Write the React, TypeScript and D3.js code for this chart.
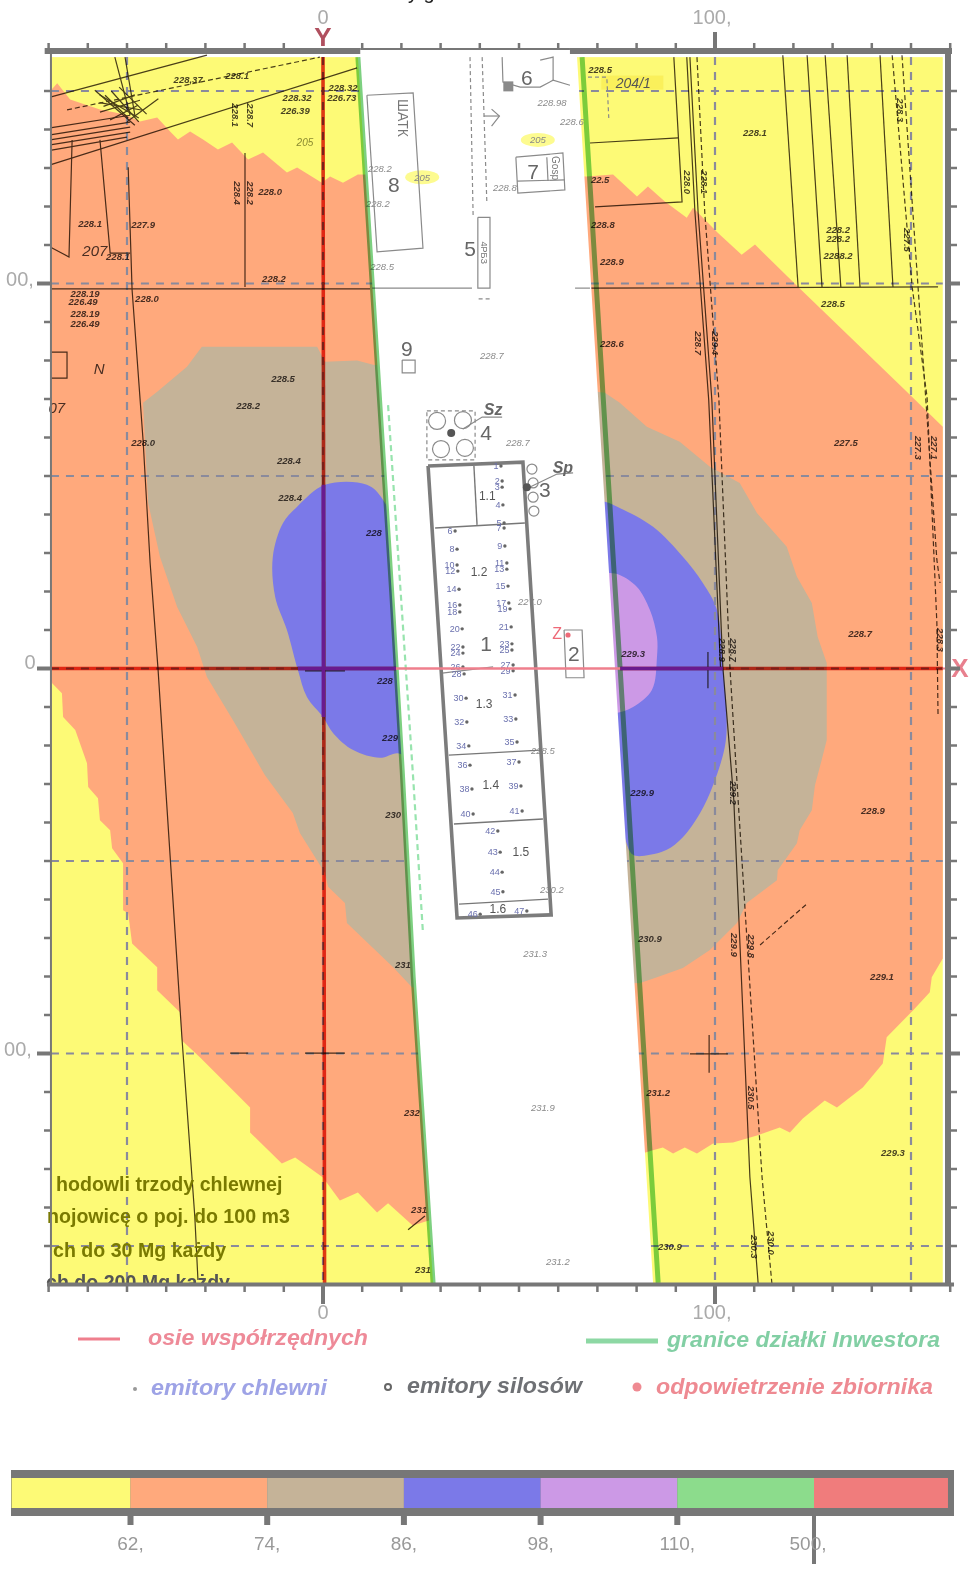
import React from 'react';
import * as d3 from 'd3';

type P = [number, number];

const orangeZone: P[] = [[-69.4,150.2],[-67.8,152],[-64.5,147.8],[-56.9,145.2],[-50.5,143.9],[-46.7,142.1],[-42.3,143.1],[-39,139.5],[-37,137.4],[-33.9,139.5],[-30.6,137.4],[-26.8,134.8],[-23.2,136.6],[-19.1,132.2],[-15.3,134],[-9.2,128.8],[-6.6,130.1],[-0.3,126.2],[1.8,127.8],[5.1,126.2],[8.9,128.3],[67.3,127.8],[74,128.3],[80.1,122.6],[82.9,125.2],[87.2,121.3],[92.8,117.1],[94.4,119.7],[100.7,113.2],[106.8,107.5],[110.2,110.1],[121.1,99.2],[148.4,72.4],[158.1,62.8],[158.1,-75.3],[155.3,-80.2],[154.8,-84.1],[150.5,-88.8],[143.8,-95.8],[142.8,-102.6],[137.7,-108.8],[131.1,-114],[128,-112.2],[122.4,-116.9],[119.1,-120.5],[116.5,-119.2],[110.7,-121.3],[104.6,-123.1],[99.5,-123.4],[95.4,-126],[92.3,-124.4],[89.3,-126],[86.7,-124.4],[83.9,-125.2],[22.9,-144.7],[16.6,-138.9],[13.8,-141.3],[8.9,-136.1],[4.3,-138.2],[0,-132.2],[-7.1,-127],[-10.5,-128.6],[-18.6,-120.5],[-18.6,-114],[-31.4,-101],[-36,-96.6],[-36.5,-89.3],[-42.3,-83.6],[-42.3,-77.6],[-48.7,-71.4],[-49.7,-63.6],[-51,-62.8],[-51,-50.6],[-53.8,-46.7],[-54.3,-42],[-56.9,-39.4],[-57.4,-33.7],[-59.9,-30.8],[-60.2,-24.6],[-63.2,-16],[-66.3,-12.6],[-66.6,-6.4],[-69.1,-3.8],[-69.4,-3]];
const tanZone: P[] = [[-30.9,83.6],[-1.5,83.6],[0.5,79.7],[8.7,80],[12.8,78.9],[71.9,71.6],[75.7,69],[82.6,62.8],[91,58.9],[98.7,52.4],[106.3,48.2],[110.7,40.4],[118.3,31.6],[120.9,23.8],[124.7,17],[126.2,8.2],[128.5,1.4],[128.5,-18.6],[127.2,-23.8],[125.5,-30.3],[124.7,-36.8],[121.6,-42],[120.9,-45.4],[116,-52.4],[115.8,-55],[108.1,-60.9],[105.6,-66.1],[98.7,-73.1],[91.8,-77.8],[85.2,-80.2],[80.9,-81.7],[22.7,-82.8],[17.9,-77.6],[6.1,-66.1],[5.6,-60.9],[1.3,-56.7],[0.5,-53.1],[-5.9,-42.7],[-7.7,-37.5],[-14.8,-27.7],[-23,-13.4],[-29.6,-2.2],[-32.1,5.6],[-37.2,16],[-41.6,29],[-44.6,43],[-45.9,69],[-42.3,71.9],[-34.7,78.4]];
const blueZoneWest: P[] = [[0.5,47.7],[11.2,47.7],[15.3,43.8],[20.9,28.2],[23.5,-23.8],[19.1,-22],[14.5,-23.2],[7.7,-21.2],[2.6,-16.8],[0,-12.6],[-4.1,-7.4],[-6.4,-0.4],[-9.2,10],[-12.2,18.6],[-12.8,29],[-10.2,37.8],[-6.6,42]];
const blueZoneEast: P[] = [[68.1,43.3],[71.9,43.3],[75.7,41.7],[84.2,36.8],[91.8,29],[96.9,22.2],[100.5,15.2],[102,0.4],[103,-13.4],[102.5,-20.4],[99.5,-30.3],[96.2,-37.5],[91.8,-43.8],[87.7,-47.1],[83.4,-48.4],[79.1,-48.4],[76.5,-42.7],[70.6,-29]];
const lilacZone: P[] = [[68.1,24.8],[73.2,24.8],[75.7,24.3],[80.1,21.2],[83.4,15.2],[85.2,8.2],[85.2,3],[83.9,-5.6],[79.1,-10],[74.5,-11.6],[68.1,-11.6]];

const parcelWest: P[] = [[8.9,158.8],[13.3,87.9],[17.6,18.6],[20.2,-26.4],[23,-80.1],[28.1,-159.9]];
const parcelEast: P[] = [[66.1,158.8],[71.4,71.6],[75.8,-0.1],[83.4,-125.1],[85.5,-159.6]];
const fenceDashed: P[] = [[16.6,68.4],[23,-28.4],[25.5,-68.7]];

const fieldLinesSolid: P[][] = [
  [[-69.6,130.8],[8.7,156]],[[-69.6,148.4],[-29.6,159.3]],
  [[-69.6,138.6],[-49.2,141.9]],[[-69.6,137.3],[-49.2,140.6]],[[-69.6,140.4],[-49.2,143.7]],[[-69.6,136],[-49.2,139.3]],[[-69.6,134.6],[-50,138]],
  [[-53.1,158.8],[-49.2,143.7]],[[-50.5,158.8],[-48,143.7]],
  [[-58.2,150.2],[-48,141.1]],[[-56.9,144.5],[-46.7,147.6]],[[-55.6,148.9],[-49.7,143]],[[-54.3,142.5],[-47.2,146.3]],
  [[-57,149],[-47,143]],[[-57,147],[-46,145]],[[-56,146],[-48,149]],[[-54,150],[-47,142]],[[-52,151],[-45,144]],[[-50,142],[-42,148]],
  [[-49.7,130.2],[-48.7,98.3],[-45.9,59.3],[-44.1,27.4],[-42.1,0.1],[-40.3,-28.4],[-36,-95.7],[-32.7,-142.4],[-31.9,-158.8]],
  [[-64,137.3],[-64.8,106.9],[-69.6,109.5]],[[-56.9,137.3],[-54.3,107.9],[-49.2,107.9]],
  [[-69.6,98.6],[12,98.6]],[[-19.9,133.9],[-19.9,99.1]],
  [[-69.6,82.2],[-65.3,82.2],[-65.3,75.4],[-69.6,75.4]],
  [[-23.7,-99.9],[-19.1,-99.9]],[[-4.6,-99.9],[5.6,-99.9]],[[-4.6,-0.6],[5.6,-0.6]],
  [[89.5,158.8],[91.6,121.2],[69.4,119.9]],[[68.1,136.5],[90.6,137.8]],[[68.1,98.8],[156.9,99.1]],
  [[93.6,158.8],[95.7,118.3],[99.2,69.7],[102,0.4],[104.8,-34.2],[108.9,-132.1],[111,-159.6]],
  [[92.8,158.8],[94.9,118.3],[98.4,69.7],[101.4,0.4]],
  [[117.3,159.3],[121.2,99.1]],[[123.5,159.3],[127.3,99.1]],[[128.1,159.3],[132.1,99.1]],[[133.7,159.3],[137,99.1]],[[142.1,159.3],[145.4,99.1]],
  [[93.6,-100.1],[103.3,-100.1]],[[98.5,-95.2],[98.5,-105]],[[98.2,4.3],[98.2,-5.1]],
  [[21.7,-145.8],[26,-142.2]],[[29.1,-139.9],[35.5,-135]],
];
const fieldLinesDashed: P[][] = [
  [[-65.3,145.1],[-0.8,158.8]],
  [[95.4,158.8],[97.4,118.3],[101,69.7],[103.8,0.4],[105.9,-34.2],[112,-132.1],[114.5,-159.6]],
  [[145.2,159.3],[150.3,99.1],[154.1,70.5],[156.6,11.8],[156.9,-12.6]],
  [[147.7,159.3],[151.8,99.1],[156.6,28.2],[157.4,22.2]],
  [[111.5,-71.8],[123.7,-60.9]],
];

const siteOutlines: P[][] = [
  [[11.2,148.9],[23,149.5],[25.5,109.2],[13.8,108.2],[11.2,148.9]],
  [[12.5,98.8],[38,98.8]],[[64.3,98.8],[68.1,98.8]],
  [[39.5,117.2],[42.6,117.2],[42.6,98.8],[39.5,98.8],[39.5,117.2]],
  [[45.7,158.8],[45.9,152.3],[50.3,151],[55.4,151],[58.7,152.8],[63,151.5]],
  [[55.4,158],[58.7,158.8],[58.7,152.8]],
  [[49.2,132.8],[61.2,133.9],[61.7,124.3],[49.7,123.5],[49.2,132.8]],
  [[49.5,126.6],[61.7,126.9]],[[57.1,132.8],[57.4,126.6]],
  [[43,145.3],[45,143.5],[43,140.9]],[[45,143.5],[41,143.5]],
  [[20.2,80.1],[23.5,80.1],[23.5,76.8],[20.2,76.8],[20.2,80.1]],
  [[61.5,10],[66.1,10],[66.6,-2.4],[62,-2.4],[61.5,10]],[[62,0],[66.5,0]],
  [[35.7,62.2],[40.6,65.3],[45.7,65.3]],[[52.3,46.9],[59.7,50.5],[63.8,50.8]],
  [[30.4,-1.2],[43.4,0.4]],
];
const siteDashed: P[][] = [
  [[37.5,158.8],[38.3,117.3]],[[40.6,158.8],[41.8,120.9]],
  [[39.7,96],[42.6,96]],[[67.6,153.6],[72.4,153.6],[72.9,143]],
  [[26.5,66.9],[38.8,66.9],[38.8,54.2],[26.5,54.2],[26.5,66.9]],
];
const hallOutline: P[] = [[26.8,52.6],[51,53.6],[58.2,-64],[34.2,-64.8],[26.8,52.6]];
const hallPartitions: P[][] = [
  [[28.6,36.5],[51.5,37.8]],[[38.5,52.6],[39.3,37.3]],[[32.1,-22.5],[55.4,-21.2]],
  [[33.4,-40.4],[56.1,-39.1]],[[34.7,-61.2],[57.4,-59.9]],
];

const emitterX = [45.4,45.7,45.7,45.9,46.2,33.7,46.2,34.2,46.4,34.2,46.9,34.4,46.9,34.7,47.2,34.9,47.4,34.9,47.7,35.5,48,35.7,48.2,35.7,48.2,35.7,48.5,36,48.5,36.5,49,36.7,49.2,37.2,49.5,37.5,50,38,50.5,38.3,50.8,44.6,45.2,45.7,45.9,40.1,52];
const emitterY = [52.6,48.7,47.1,42.5,37.8,35.7,36.5,31,31.8,26.9,27.4,25.3,25.8,20.6,21.4,16.5,17,14.7,15.5,10.3,10.8,5.6,6.4,4,4.8,0.4,0.9,-1.4,-0.6,-7.7,-6.9,-13.9,-13.1,-20.1,-19.1,-25.1,-24.3,-31.3,-30.5,-37.8,-37,-42.2,-47.7,-52.9,-58,-63.8,-63];

const siloLarge: P[] = [[29.1,64.3],[35.7,64.5],[30.1,57],[36.2,57.3]];
const siloSmall: P[] = [[53.3,51.8],[53.6,48.2],[53.6,44.5],[53.8,40.9]];
const siloVents: P[] = [[32.7,61.2],[52,47.1]];
const tankVent: P = [62.5,8.7];

const sheetNumbers: [string, number, number][] = [
  ['8',18.1,125.6],['9',21.4,83.2],['5',37.5,109.2],['6',52,153.4],['7',53.6,129.2],['4',41.6,61.4],['3',56.6,46.6],['2',64,3.8],['1',41.6,6.6],
];
const hallSections: [string, number, number][] = [['1.1',41.9,44.8],['1.2',39.8,25.1],['1.3',41.1,-9.2],['1.4',42.8,-30.3],['1.5',50.5,-47.7],['1.6',44.6,-62.5]];
const ventNames: [string, number, number][] = [['Sz',43.4,67.4],['Sp',61.2,52.1]];
const highlightNotes: [string, number, number][] = [['205',-4.6,136.7],['205',25.3,127.6],['205',54.8,137.3]];

const fieldHeights: [string, number, number][] = [
  ['228,37',-34.4,152.9],['228.1',-21.9,154.1],['228.32',-6.6,148.2],['226.39',-7.1,145],['228.32',5.1,151],['226.73',4.8,148.2],
  ['228.0',-13.5,124],['228.1',-59.4,115.7],['227.9',-45.9,115.4],['228.1',-52.3,106.9],['228.2',-12.5,101.4],['228.0',-44.9,96.2],
  ['228.19',-60.7,97.5],['226.49',-61.2,95.2],['228.19',-60.7,92.3],['226.49',-60.7,89.7],['228.5',-10.2,75.2],['228.2',-19.1,68.2],
  ['228.0',-45.9,58.8],['228.4',-8.7,53.9],['228.4',-8.4,44.3],['228',13,35.2],['228',15.8,-3],['229',17.1,-18],['230',17.9,-38],
  ['231',20.4,-77],['232',22.7,-115.2],['231',24.5,-140.4],['231',25.5,-156.2],
  ['228.5',70.7,155.7],['22.5',70.7,127.1],['228.8',71.4,115.4],['228.9',73.7,105.8],['228.6',73.7,84.5],['228.1',110.2,139.3],
  ['228.2',131.4,113.9],['228.2',131.4,111.8],['2288.2',131.4,107.4],['228.5',130.1,94.9],['227.5',133.4,58.8],['228.7',137,9.2],
  ['229.3',79.1,4],['229.9',81.4,-32.3],['228.9',140.3,-37],['230.9',83.4,-70.2],['229.1',142.6,-79.9],['231.2',85.5,-110.2],['229.3',145.4,-125.8],['230.9',88.5,-150.2],
];
const siteHeights: [string, number, number][] = [
  ['228.2',14.5,130],['228.2',14,120.9],['228.5',15.1,104.3],['228.8',46.4,125],['228.98',58.4,146.9],['228.6',63.5,142.2],
  ['228.7',43.1,81.2],['228.7',49.7,58.6],['227.0',52.8,17.3],['228.5',56.1,-21.4],['230.2',58.4,-57.5],['231.3',54.1,-73.9],['231.9',56.1,-114.1],['231.2',59.9,-153.9],
];
const verticalHeights: [string, number, number][] = [
  ['228.0',92.9,126.3],['228.1',97.4,126.3],['228.7',95.7,84.5],['229.4',100,84.5],['227.3',151.8,57.3],['227.1',156.1,57.3],
  ['228.9',101.8,4.8],['228.7',104.6,4.8],['228.3',157.4,7.4],['229.2',104.8,-32.3],['229.9',105.1,-71.8],['229.8',109.4,-72.1],
  ['230.5',109.4,-111.5],['230.0',114.5,-149.2],['230.3',110.2,-150.2],['228.3',147.2,145],['227.5',149.2,111.3],
  ['228.4',-21.7,123.5],['228.2',-18.4,123.5],['228.1',-22.4,143.7],['228.7',-18.4,143.7],
];
const plotNames: [string, number, number][] = [['207',-58.2,108.7],['N',-57.1,78],['07',-67.9,67.7]];

const xTicks = d3.range(-70, 161, 10);
const yTicks = d3.range(-150, 151, 10);
const gridX = [-50, 0, 100, 150];
const gridY = [150, 100, 50, 0, -50, -100, -150];
const levelBreaks = ['62,', '74,', '86,', '98,', '110,', '500,'];
const levelColours = ['#fdfa76', '#ffa97c', '#c5b398', '#7b79e8', '#cc99e6', '#8cdc8c', '#f07c7c'];
const noteLines = ['hodowli trzody chlewnej', 'nojowicę o poj. do 100 m3', 'ch do 30 Mg każdy', 'ch do 200 Mg każdy'];

const SANS = '"Liberation Sans", Arial, sans-serif';

export default function App() {
  const x = d3.scaleLinear().domain([0, 100]).range([323, 715]);
  const y = d3.scaleLinear().domain([0, 100]).range([668.5, 283.5]);
  const path = d3.line<P>().x(d => x(d[0])).y(d => y(d[1]));
  const round = d3.line<P>().x(d => x(d[0])).y(d => y(d[1])).curve(d3.curveCatmullRomClosed.alpha(0.5));
  const area = (p: P[]) => path(p)! + 'Z';

  const xL = -69.4, xR = 158.1, yT = 158.8, yB = -159.6;
  const strip: P[] = [...parcelWest, ...[...parcelEast].reverse().map(([a, b]) => [a - 1.3, b] as P)];

  const level = d3.scaleLinear().domain([0, 5]).range([130.5, 814]);
  const edges = [-0.87, 0, 1, 2, 3, 4, 5, 5.98];

  return (
    <svg width={970} height={1579} viewBox="0 0 970 1579"
      style={{ position: 'absolute', left: 0, top: 0, filter: 'blur(0.45px)', fontFamily: SANS }}>
      <defs>
        <clipPath id="plotBottom"><rect x={0} y={0} width={970} height={1283} /></clipPath>
      </defs>
      <rect width={970} height={1579} fill="#fff" />

      {/* concentration zones */}
      <rect x={x(xL)} y={y(yT)} width={x(xR) - x(xL)} height={y(yB) - y(yT)} fill={levelColours[0]} />
      <path d={area(orangeZone)} fill={levelColours[1]} />
      <path d={area(tanZone)} fill={levelColours[2]} />
      <path d={round(blueZoneWest)!} fill={levelColours[3]} />
      <path d={round(blueZoneEast)!} fill={levelColours[3]} />
      <path d={round(lilacZone)!} fill={levelColours[4]} />

      {/* highlighted parcel number */}
      <rect x={x(71)} y={y(154)} width={62} height={14} fill="#f9ee55" opacity={0.8} />

      {/* grid */}
      <g stroke="#8a8a9c" strokeWidth={2.2} strokeDasharray="8 7" fill="none">
        {gridX.map(v => <line key={v} x1={x(v)} x2={x(v)} y1={y(yT)} y2={y(yB)} />)}
        {gridY.map(v => <line key={v} x1={x(xL)} x2={x(xR)} y1={y(v)} y2={y(v)} />)}
      </g>

      {/* base map, tinted by the zones below it */}
      <g style={{ mixBlendMode: 'multiply' }} fill="none" stroke="#4a4030" strokeWidth={1.2}>
        {fieldLinesSolid.map((l, i) => <path key={i} d={path(l)!} />)}
        {fieldLinesDashed.map((l, i) => <path key={i} d={path(l)!} strokeDasharray="5 3" />)}
      </g>
      <g style={{ mixBlendMode: 'multiply' }} fill="#4a4545" fontStyle="italic" fontSize={9.5} textAnchor="middle" dominantBaseline="central">
        {fieldHeights.map(([t, a, b], i) => <text key={i} x={x(a)} y={y(b)} fontWeight="bold">{t}</text>)}
        {verticalHeights.map(([t, a, b], i) => (
          <text key={i} x={0} y={0} transform={`translate(${x(a)},${y(b)}) rotate(90)`} fontWeight="bold">{t}</text>
        ))}
        {plotNames.map(([t, a, b], i) => <text key={i} x={x(a)} y={y(b)} fontSize={15}>{t}</text>)}
      </g>

      {/* investor's plot */}
      <path d={area(strip)} fill="#fff" />
      <text x={x(-4.6)} y={y(136.7)} fontSize={10} fontStyle="italic" fill="#8a8a30" textAnchor="middle" dominantBaseline="central">{highlightNotes[0][0]}</text>
      <text x={x(71)+32} y={y(154)+7} fontSize={14} fontStyle="italic" fill="#555" textAnchor="middle" dominantBaseline="central">204/1</text>
      {highlightNotes.slice(1).map(([t, a, b], i) => (
        <g key={i}>
          <ellipse cx={x(a)} cy={y(b)} rx={17} ry={7} fill="#fdfb90" />
          <text x={x(a)} y={y(b)} fontSize={9.5} fontStyle="italic" fill="#888" textAnchor="middle" dominantBaseline="central">{t}</text>
        </g>
      ))}

      <g fill="none" stroke="#8a8a8a" strokeWidth={1.2}>
        {siteOutlines.map((l, i) => <path key={i} d={path(l)!} />)}
        {siteDashed.map((l, i) => <path key={i} d={path(l)!} strokeDasharray="4 3" />)}
        {siloLarge.map((c, i) => <circle key={i} cx={x(c[0])} cy={y(c[1])} r={8.5} />)}
        {siloSmall.map((c, i) => <circle key={i} cx={x(c[0])} cy={y(c[1])} r={5} />)}
      </g>
      <rect x={x(46)} y={y(152.5)} width={10} height={10} fill="#8a8a8a" />
      <g fill="#8a8a8a" fontSize={9.5} fontStyle="italic" textAnchor="middle" dominantBaseline="central">
        {siteHeights.map(([t, a, b], i) => <text key={i} x={x(a)} y={y(b)}>{t}</text>)}
      </g>
      <text x={0} y={0} transform={`translate(${x(20.5)},${y(143)}) rotate(90)`} fontSize={14} fill="#777" textAnchor="middle" dominantBaseline="central">ШАТК</text>
      <text x={0} y={0} transform={`translate(${x(41)},${y(108)}) rotate(90)`} fontSize={9} fill="#777" textAnchor="middle" dominantBaseline="central">4РБЗ</text>
      <text x={0} y={0} transform={`translate(${x(59.4)},${y(130)}) rotate(90)`} fontSize={10} fill="#777" textAnchor="middle" dominantBaseline="central">Gosp</text>
      <path d={path(hallOutline)!} fill="none" stroke="#7c7c7c" strokeWidth={3.6} />
      {hallPartitions.map((l, i) => <path key={i} d={path(l)!} fill="none" stroke="#777" strokeWidth={1.4} />)}

      <g fill="#6a70ae" fontSize={9} textAnchor="end" dominantBaseline="central">
        {emitterX.map((v, i) => <text key={i} x={x(v) - 2.5} y={y(emitterY[i])}>{i + 1}</text>)}
      </g>
      <g fill="#666">
        {emitterX.map((v, i) => <circle key={i} cx={x(v)} cy={y(emitterY[i])} r={1.7} />)}
        {siloVents.map((c, i) => <circle key={i} cx={x(c[0])} cy={y(c[1])} r={4} fill="#555" />)}
      </g>
      <circle cx={x(tankVent[0])} cy={y(tankVent[1])} r={2.6} fill="#ee6a78" />
      <text x={x(59.7)} y={y(9)} fontSize={16} fill="#ee6a78" textAnchor="middle" dominantBaseline="central">Z</text>
      <g fill="#666" fontSize={21} textAnchor="middle" dominantBaseline="central">
        {sheetNumbers.map(([t, a, b], i) => <text key={i} x={x(a)} y={y(b)}>{t}</text>)}
      </g>
      <g fill="#555" fontSize={12} textAnchor="middle" dominantBaseline="central">
        {hallSections.map(([t, a, b], i) => <text key={i} x={x(a)} y={y(b)}>{t}</text>)}
      </g>
      <g fill="#666" fontSize={16} fontStyle="italic" fontWeight="bold" textAnchor="middle" dominantBaseline="central">
        {ventNames.map(([t, a, b], i) => <text key={i} x={x(a)} y={y(b)}>{t}</text>)}
      </g>

      {/* fence, parcel boundaries */}
      <path d={path(fenceDashed)!} fill="none" stroke="#98e4ae" strokeWidth={2.2} strokeDasharray="6 4" />
      <g style={{ mixBlendMode: 'multiply' }} fill="none" stroke="#7dd080" strokeWidth={5}>
        <path d={path(parcelWest)!} />
        <path d={path(parcelEast)!} />
      </g>

      {/* co-ordinate axes */}
      <g style={{ mixBlendMode: 'multiply' }} stroke="#e03a28" strokeWidth={3.6} fill="none">
        <line x1={x(xL)} x2={x(18.6)} y1={y(0)} y2={y(0)} />
        <line x1={x(75.8)} x2={x(xR)} y1={y(0)} y2={y(0)} />
        <line x1={x(0)} x2={x(0.4)} y1={y(yT)} y2={y(yB)} />
      </g>
      <g stroke="#6a1a8e" strokeWidth={3.6} fill="none">
        <line x1={x(-6.4)} x2={x(18.6)} y1={y(0)} y2={y(0)} />
        <line x1={x(75.8)} x2={x(102)} y1={y(0)} y2={y(0)} />
        <line x1={x(0.1)} x2={x(0.1)} y1={y(47.7)} y2={y(-12.6)} />
      </g>
      <line x1={x(18.6)} x2={x(75.8)} y1={y(0)} y2={y(0)} stroke="#ef7f8d" strokeWidth={2.4} />
      <line x1={x(xR)} x2={958} y1={y(0)} y2={y(0)} stroke="#ef7f8d" strokeWidth={2} />
      <text x={x(0)} y={37} fontSize={26} fontWeight="bold" fill="#b0505f" textAnchor="middle" dominantBaseline="central">Y</text>
      <text x={960} y={668} fontSize={26} fontWeight="bold" fill="#e8808e" textAnchor="middle" dominantBaseline="central">X</text>

      {/* note text left behind on the sheet */}
      <g fontWeight="bold" fontSize={19.6} fill="#7a7a00">
        <text x={56} y={1191}>{noteLines[0]}</text>
        <text x={47} y={1223}>{noteLines[1]}</text>
        <text x={53} y={1257}>{noteLines[2]}</text>
        <text x={46} y={1289} fill="#555" clipPath="url(#plotBottom)">{noteLines[3]}</text>
      </g>

      {/* frame */}
      <g stroke="#777" fill="none">
        <line x1={x(xL)} x2={x(xL)} y1={52} y2={1284} strokeWidth={2} />
        <line x1={x(-71)} x2={x(9.5)} y1={51} y2={51} strokeWidth={6} />
        <line x1={x(9.5)} x2={x(63)} y1={49} y2={49} strokeWidth={2} />
        <line x1={x(63)} x2={952} y1={51} y2={51} strokeWidth={6} />
        <line x1={948} x2={948} y1={50} y2={1286} strokeWidth={6} />
        <line x1={47} x2={954} y1={1284.5} y2={1284.5} strokeWidth={4} />
      </g>
      <g stroke="#777" fill="none">
        {xTicks.map(v => {
          const major = v === 0 || v === 100;
          return (
            <g key={v} strokeWidth={major ? 4 : 2.5}>
              {v !== 0 && <line x1={x(v)} x2={x(v)} y1={50} y2={major ? 32 : 43} />}
              <line x1={x(v)} x2={x(v)} y1={1285} y2={major ? 1304 : 1292} />
            </g>
          );
        })}
        {yTicks.map(v => {
          const major = v === 0 || Math.abs(v) === 100;
          return (
            <g key={v} strokeWidth={major ? 4 : 2.5}>
              <line x1={51} x2={major ? 37 : 44} y1={y(v)} y2={y(v)} />
              <line x1={948} x2={major ? 960 : 957} y1={y(v)} y2={y(v)} />
            </g>
          );
        })}
      </g>
      <g fill="#aaa" fontSize={20} textAnchor="middle" dominantBaseline="central">
        <text x={x(0)} y={17}>0</text>
        <text x={x(100) - 3} y={17}>100,</text>
        <text x={x(0)} y={1312}>0</text>
        <text x={x(100) - 3} y={1312}>100,</text>
        <text x={30} y={662}>0</text>
        <text x={20} y={y(100) - 5}>00,</text>
        <text x={18} y={y(-100) - 5}>00,</text>
      </g>
      <text x={408} y={-1} fontSize={20} fill="#222">y g</text>

      {/* legend */}
      <g fontWeight="bold" fontStyle="italic" fontSize={22}>
        <line x1={78} x2={120} y1={1339} y2={1339} stroke="#ef7f8d" strokeWidth={3} />
        <text x={148} y={1345} fill="#ee8a98" textLength={220} lengthAdjust="spacingAndGlyphs">osie współrzędnych</text>
        <line x1={586} x2={658} y1={1341} y2={1341} stroke="#8dd8a4" strokeWidth={5} />
        <text x={667} y={1347} fill="#82cfa4" textLength={273} lengthAdjust="spacingAndGlyphs">granice działki Inwestora</text>
        <circle cx={135} cy={1389} r={2} fill="#999" />
        <text x={151} y={1395} fill="#9ea3e6" textLength={176} lengthAdjust="spacingAndGlyphs">emitory chlewni</text>
        <circle cx={388} cy={1387} r={3} fill="none" stroke="#666" strokeWidth={2} />
        <text x={407} y={1393} fill="#6f7175" textLength={175} lengthAdjust="spacingAndGlyphs">emitory silosów</text>
        <circle cx={637} cy={1387} r={4.5} fill="#ef8a92" />
        <text x={656} y={1394} fill="#ee8a92" textLength={277} lengthAdjust="spacingAndGlyphs">odpowietrzenie zbiornika</text>
      </g>

      {/* colour scale */}
      <rect x={11} y={1470} width={943} height={46} fill="#777" />
      {levelColours.map((c, i) => {
        const a = level(edges[i]);
        const b = level(edges[i + 1]);
        return <rect key={c} x={a} y={1478} width={b - a} height={30} fill={c} />;
      })}
      {levelBreaks.map((t, i) => (
        <g key={t}>
          <line x1={level(i)} x2={level(i)} y1={1516} y2={i === 5 ? 1564 : 1525} stroke="#777" strokeWidth={i === 5 ? 4 : 6} />
          <text x={level(i) + (i === 5 ? -6 : 0)} y={1543} fontSize={19} fill="#999" textAnchor="middle" dominantBaseline="central">{t}</text>
        </g>
      ))}
    </svg>
  );
}
